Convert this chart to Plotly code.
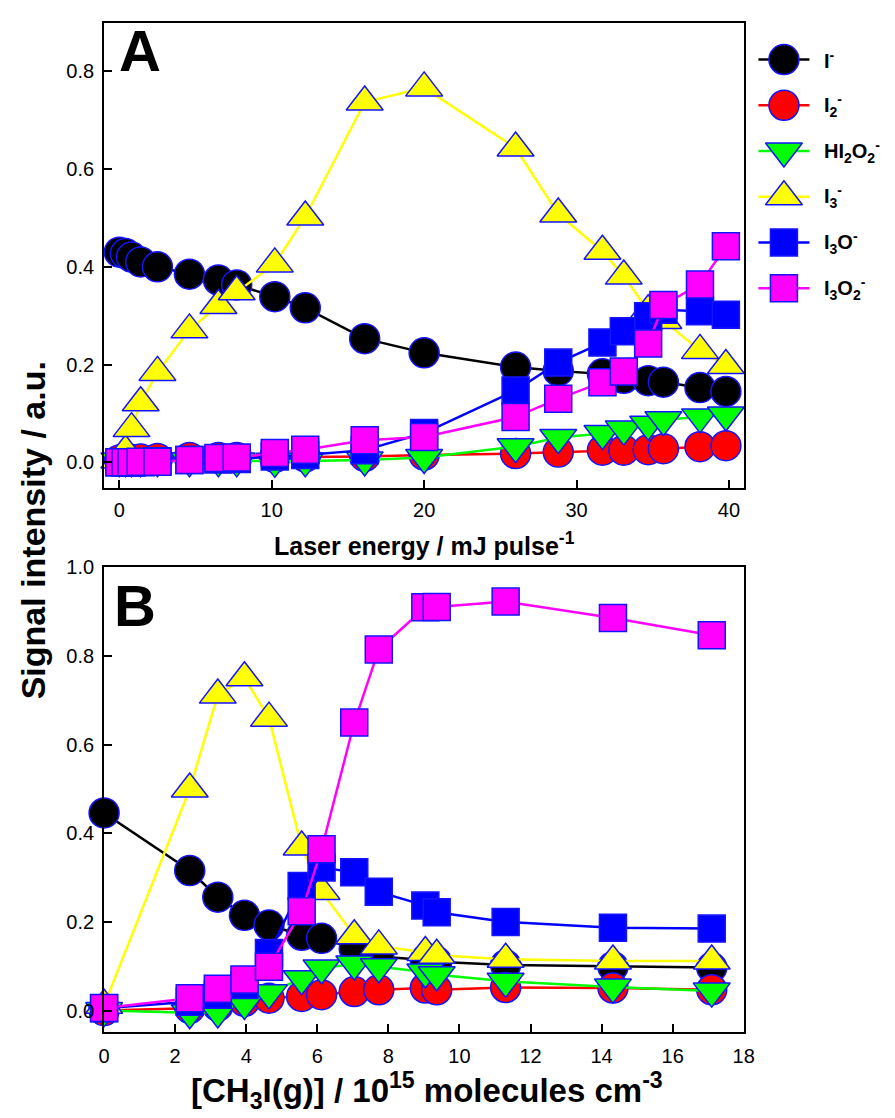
import plotly.graph_objects as go

# ---- Panel A: ion signals vs. photolysis laser energy ----
laser_energy = [0, 0.4, 0.8, 1.4, 2.5, 4.6, 6.5, 7.7, 10.2, 12.2,
                16.1, 20.0, 26.0, 28.8, 31.7, 33.1, 34.7, 35.7, 38.1, 39.8]
a_I = [0.430, 0.427, 0.420, 0.410, 0.400, 0.385, 0.373, 0.363, 0.339, 0.316,
       0.253, 0.224, 0.195, 0.187, 0.181, 0.172, 0.167, 0.164, 0.153, 0.145]
a_I2 = [0.005, 0.005, 0.006, 0.007, 0.008, 0.010, 0.010, 0.010, 0.010, 0.011,
        0.012, 0.015, 0.018, 0.021, 0.025, 0.025, 0.026, 0.028, 0.032, 0.034]
a_HI2O2 = [0.003, 0.003, 0.003, 0.003, 0.003, 0.003, 0.003, 0.003, 0.002, 0.003,
           0.005, 0.010, 0.032, 0.051, 0.059, 0.068, 0.078, 0.087, 0.093, 0.097]
a_I3 = [0.005, 0.023, 0.069, 0.122, 0.184, 0.271, 0.321, 0.349, 0.406, 0.502,
        0.737, 0.766, 0.643, 0.508, 0.432, 0.381, 0.310, 0.290, 0.229, 0.198]
a_I3O = [0.000, 0.000, 0.000, 0.000, 0.002, 0.005, 0.006, 0.007, 0.012, 0.015,
         0.025, 0.060, 0.147, 0.204, 0.245, 0.268, 0.299, 0.312, 0.309, 0.302]
a_I3O2 = [0.000, 0.000, 0.000, 0.001, 0.001, 0.005, 0.009, 0.010, 0.019, 0.026,
          0.045, 0.052, 0.093, 0.130, 0.164, 0.186, 0.243, 0.322, 0.364, 0.442]

# ---- Panel B: ion signals vs. CH3I concentration ----
ch3i_conc = [0, 2.41, 3.2, 3.95, 4.64, 5.56, 6.12, 7.04, 7.73, 9.04, 9.36, 11.3, 14.32, 17.1]
b_I = [0.446, 0.316, 0.256, 0.215, 0.193, 0.170, 0.163, 0.140, 0.122, 0.114, 0.110, 0.103, 0.099, 0.097]
b_I2 = [0.000, 0.005, 0.010, 0.021, 0.028, 0.032, 0.036, 0.043, 0.047, 0.051, 0.047, 0.052, 0.051, 0.047]
b_HI2O2 = [0.000, -0.005, -0.003, 0.016, 0.040, 0.072, 0.096, 0.105, 0.099, 0.087, 0.081, 0.066, 0.053, 0.044]
b_I3 = [0.012, 0.500, 0.712, 0.751, 0.660, 0.369, 0.269, 0.169, 0.146, 0.131, 0.125, 0.116, 0.112, 0.112]
b_I3O = [0.005, 0.020, 0.036, 0.058, 0.130, 0.281, 0.323, 0.312, 0.268, 0.237, 0.222, 0.200, 0.187, 0.185]
b_I3O2 = [0.006, 0.028, 0.049, 0.070, 0.099, 0.224, 0.364, 0.650, 0.815, 0.910, 0.911, 0.923, 0.886, 0.847]

species = ["I<sup>-</sup>", "I<sub>2</sub><sup>-</sup>", "HI<sub>2</sub>O<sub>2</sub><sup>-</sup>",
           "I<sub>3</sub><sup>-</sup>", "I<sub>3</sub>O<sup>-</sup>", "I<sub>3</sub>O<sub>2</sub><sup>-</sup>"]
panel_a = [a_I, a_I2, a_HI2O2, a_I3, a_I3O, a_I3O2]
panel_b = [b_I, b_I2, b_HI2O2, b_I3, b_I3O, b_I3O2]

colors = ["#000000", "#ff0000", "#00ff00", "#ffff00", "#0000ff", "#ff00ff"]
symbols = ["circle", "circle", "triangle-down", "triangle-up", "square", "square"]
sizes = [30, 30, 32, 32, 27, 27]
EDGE = "#1414ff"
FONT = "Liberation Sans, Arial, Helvetica, sans-serif"

W, H = 895, 1118
X0, X1 = 100, 752          # plot area left/right (px)
A_TOP, A_BOT = 12, 482      # panel A top/bottom (px)
B_TOP, B_BOT = 562, 1031    # panel B top/bottom (px)


def py(v):
    return 1 - v / H


fig = go.Figure()

for ys, name, c, sym, sz in zip(panel_a, species, colors, symbols, sizes):
    fig.add_trace(go.Scatter(
        x=laser_energy, y=ys, name=name, mode="lines+markers",
        line=dict(color=c, width=2.5),
        marker=dict(symbol=sym, size=sz, color=c, line=dict(color=EDGE, width=1.5)),
        cliponaxis=False, xaxis="x", yaxis="y", showlegend=False))

for ys, name, c, sym, sz in zip(panel_b, species, colors, symbols, sizes):
    fig.add_trace(go.Scatter(
        x=ch3i_conc, y=ys, name=name, mode="lines+markers",
        line=dict(color=c, width=2.5),
        marker=dict(symbol=sym, size=sz, color=c, line=dict(color=EDGE, width=1.5)),
        cliponaxis=False, xaxis="x2", yaxis="y2", showlegend=False))

# Legend keys drawn on a pixel-unit overlay axis at the right
LEG_X0, LEG_X1, LEG_MID, LEG_TXT = 767, 819, 793, 832
LEG_Y0, LEG_DY = 49, 46.2
for i, (name, c, sym, sz) in enumerate(zip(species, colors, symbols, sizes)):
    yrow = LEG_Y0 + i * LEG_DY
    fig.add_trace(go.Scatter(
        x=[LEG_X0, LEG_X1], y=[yrow, yrow], mode="lines",
        line=dict(color=c, width=2.5), xaxis="x3", yaxis="y3",
        showlegend=False, hoverinfo="skip"))
    fig.add_trace(go.Scatter(
        x=[LEG_MID], y=[yrow], mode="markers",
        marker=dict(symbol=sym, size=sz, color=c, line=dict(color=EDGE, width=1.5)),
        cliponaxis=False, xaxis="x3", yaxis="y3", showlegend=False, hoverinfo="skip"))
    fig.add_annotation(x=LEG_TXT, y=yrow, xref="x3", yref="y3", text=f"<b>{name}</b>",
                       showarrow=False, xanchor="left", yanchor="middle",
                       font=dict(family=FONT, size=20, color="black"))

axis_common = dict(
    showline=True, linecolor="black", linewidth=2, mirror=True,
    ticks="inside", ticklen=8, tickwidth=2, tickcolor="black",
    showgrid=False, zeroline=False,
    tickfont=dict(family=FONT, size=20, color="black"),
)

fig.update_layout(
    width=W, height=H,
    margin=dict(l=0, r=0, t=0, b=0),
    paper_bgcolor="white", plot_bgcolor="white",
    showlegend=False,
    xaxis=dict(domain=[X0 / W, X1 / W], anchor="y", range=[-1.0, 40.97],
               tickvals=[0, 10, 20, 30, 40], ticklabelstandoff=3, **axis_common),
    yaxis=dict(domain=[py(A_BOT), py(A_TOP)], anchor="x", range=[-0.053, 0.899],
               tickvals=[0, 0.2, 0.4, 0.6, 0.8], tickformat=".1f",
               ticklabelstandoff=4, **axis_common),
    xaxis2=dict(domain=[X0 / W, X1 / W], anchor="y2", range=[0, 18],
                tickvals=list(range(0, 19, 2)), ticklabelstandoff=5, **axis_common),
    yaxis2=dict(domain=[py(B_BOT), py(B_TOP)], anchor="x2", range=[-0.048, 1.0],
                tickvals=[0, 0.2, 0.4, 0.6, 0.8, 1.0], tickformat=".1f",
                ticklabelstandoff=4, **axis_common),
    xaxis3=dict(domain=[760 / W, 1], anchor="y3", range=[760, 895], visible=False),
    yaxis3=dict(domain=[0, 1], anchor="x3", range=[H, 0], visible=False),
)

# Panel letters
fig.add_annotation(x=137 / W, y=py(40), xref="paper", yref="paper", text="<b>A</b>",
                   showarrow=False, xanchor="center", yanchor="middle",
                   font=dict(family=FONT, size=58, color="black"))
fig.add_annotation(x=132 / W, y=py(600), xref="paper", yref="paper", text="<b>B</b>",
                   showarrow=False, xanchor="center", yanchor="middle",
                   font=dict(family=FONT, size=58, color="black"))

# Axis titles
fig.add_annotation(x=427 / W, y=py(538), xref="paper", yref="paper",
                   text="<b>Laser energy / mJ pulse<sup>-1</sup></b>",
                   showarrow=False, xanchor="center", yanchor="middle",
                   font=dict(family=FONT, size=25, color="black"))
fig.add_annotation(x=429 / W, y=py(1090), xref="paper", yref="paper",
                   text="<b>[CH<sub>3</sub>I(g)] / 10<sup>15</sup> molecules cm<sup>-3</sup></b>",
                   showarrow=False, xanchor="center", yanchor="middle",
                   font=dict(family=FONT, size=33, color="black"))
fig.add_annotation(x=27 / W, y=py(524), xref="paper", yref="paper",
                   text="<b>Signal intensity / a.u.</b>", textangle=-90,
                   showarrow=False, xanchor="center", yanchor="middle",
                   font=dict(family=FONT, size=34, color="black"))

fig.write_html("out.html")
